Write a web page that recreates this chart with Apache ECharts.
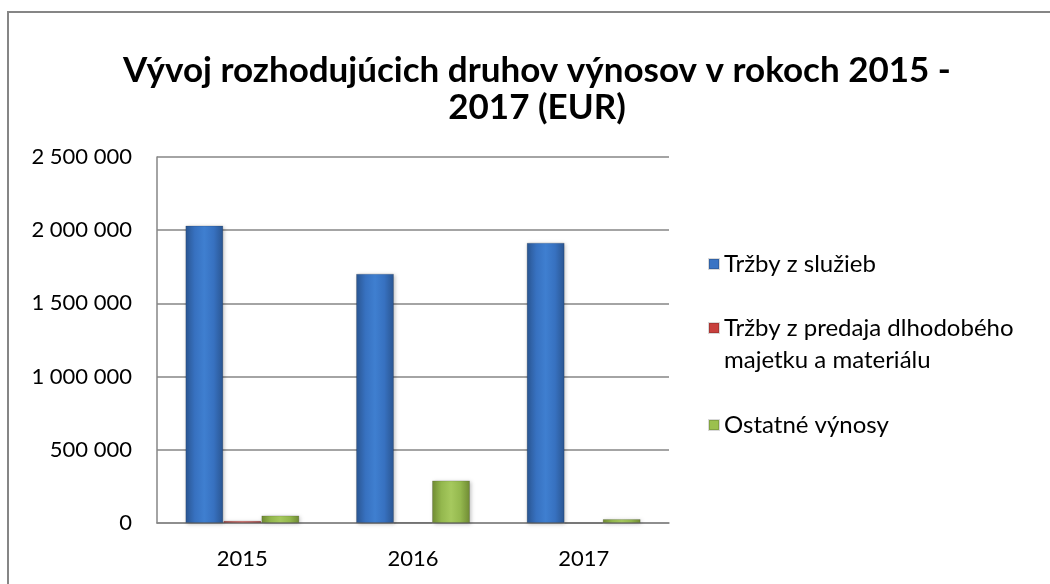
<!DOCTYPE html>
<html><head><meta charset="utf-8">
<script src="https://cdn.jsdelivr.net/npm/echarts@6/dist/echarts.min.js"></script>
<style>html,body{margin:0;padding:0;background:#fff}#c{width:1050px;height:584px}</style>
</head><body><div id="c"></div>
<script>
const categories = ['2015', '2016', '2017'];
const seriesNames = ['Tržby z služieb', 'Tržby z predaja dlhodobého\nmajetku a materiálu', 'Ostatné výnosy'];
const trzbySluzieb = [2032000, 1703000, 1915000];
const trzbyPredaj = [16000, 2000, 0];
const ostatneVynosy = [52000, 291000, 27000];
const yTicks = [0, 500000, 1000000, 1500000, 2000000, 2500000];

const FONT = 'Lato, "Open Sans", sans-serif';
function grad(dark, mid, light) {
  return new echarts.graphic.LinearGradient(0, 0, 1, 0, [
    {offset: 0, color: dark}, {offset: 0.25, color: mid}, {offset: 0.5, color: light},
    {offset: 0.75, color: mid}, {offset: 1, color: dark}
  ]);
}
const colors = [
  grad('#2a5590', '#3771c0', '#3f7fd0'),
  grad('#9a2f2c', '#c0504d', '#d9605c'),
  grad('#6f8a33', '#94b84e', '#a6c95e')
];
const legendColors = ['#3a74c4', '#c8403d', '#9bc04e'];
const values = [trzbySluzieb, trzbyPredaj, ostatneVynosy];

const chart = echarts.init(document.getElementById('c'), null, {renderer: 'canvas'});
const legendTops = [248, 280, 409];
chart.setOption({
  animation: false,
  backgroundColor: '#fff',
  title: {
    text: 'Vývoj rozhodujúcich druhov výnosov v rokoch 2015 -\n2017 (EUR)',
    left: 532, textAlign: 'center', top: 47,
    textStyle: {fontFamily: FONT, fontWeight: 'bold', fontSize: 35, lineHeight: 37, color: '#000'}
  },
  graphic: [{
    type: 'rect', shape: {x: 8, y: 12, width: 1100, height: 700},
    style: {fill: 'none', stroke: '#868686', lineWidth: 2}, silent: true, z: -1
  }],
  legend: seriesNames.map((n, i) => ({
    data: [{name: n, itemStyle: {color: legendColors[i]}}],
    orient: 'vertical', left: 708, top: legendTops[i],
    itemWidth: 10, itemHeight: 10, itemGap: 0, icon: 'rect', padding: 0,
    formatter: i === 1 ? (name => ' \n' + name) : undefined,
    textStyle: {fontFamily: FONT, fontSize: 24, color: '#000', lineHeight: 32},
    selectedMode: false
  })),
  grid: {left: 157, right: 381, top: 157, bottom: 61},
  xAxis: {
    type: 'category', data: categories,
    axisLine: {lineStyle: {color: '#868686', width: 1.5}},
    axisTick: {show: false},
    axisLabel: {fontFamily: FONT, fontSize: 22, color: '#000', margin: 25}
  },
  yAxis: {
    type: 'value', min: 0, max: 2500000, interval: 500000,
    axisLine: {show: true, lineStyle: {color: '#868686', width: 1.5}},
    axisTick: {show: false},
    splitLine: {lineStyle: {color: '#868686', width: 1.5}},
    axisLabel: {fontFamily: FONT, fontSize: 22, color: '#000', margin: 25,
      formatter: v => yTicks.includes(v) ? String(v).replace(/\B(?=(\d{3})+(?!\d))/g, ' ') : ''}
  },
  series: seriesNames.map((n, i) => ({
    name: n, type: 'bar', data: values[i],
    barWidth: 38, barGap: '0%',
    itemStyle: {color: colors[i], borderColor: 'rgba(0,0,0,0.15)', borderWidth: 1,
      shadowColor: 'rgba(0,0,0,0.25)', shadowBlur: 4, shadowOffsetX: 1, shadowOffsetY: 1}
  }))
});
</script></body></html>
